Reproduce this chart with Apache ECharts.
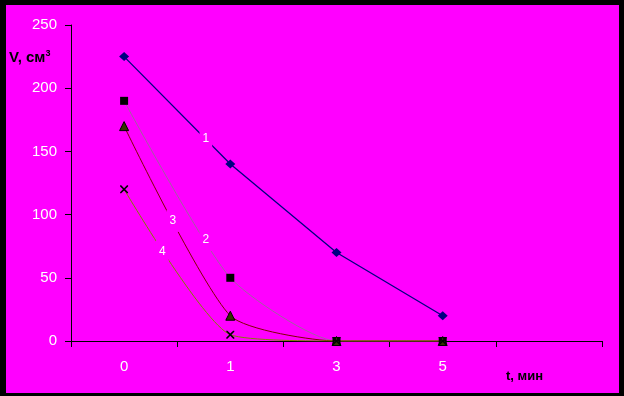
<!DOCTYPE html>
<html><head><meta charset="utf-8">
<script src="https://cdn.jsdelivr.net/npm/echarts@6/dist/echarts.min.js"></script>
<style>html,body{margin:0;padding:0;background:#000;}#c{width:624px;height:396px;}</style>
</head><body><div id="c"></div>
<script>
const categories = ['0', '1', '3', '5', ''];
const series1 = [225, 140, 70, 20];
const series2 = [190, 50, 0, 0];
const series3 = [170, 20, 0, 0];
const series4 = [120, 5, 0, 0];
const yTicks = {min: 0, max: 250, interval: 50};
// curve labels in data space: [category index (fractional), value, text]
const curveLabels = [[0.77, 160, '1'], [0.77, 80, '2'], [0.46, 95, '3'], [0.36, 71, '4']];

const MAG = '#ff00ff';
const xPath = 'path://M0,0L1.4,0L5,3.6L8.6,0L10,0L10,1.4L6.4,5L10,8.6L10,10L8.6,10L5,6.4L1.4,10L0,10L0,8.6L3.6,5L0,1.4Z';
const chart = echarts.init(document.getElementById('c'));
const tickLabel = {color: '#fff', fontFamily: 'Liberation Sans', fontSize: 15,
  textShadowColor: '#000', textShadowOffsetX: 1, textShadowOffsetY: 1, textShadowBlur: 0};
const SM = 0.2;
const option = {
  backgroundColor: '#000',
  animation: false,
  grid: {left: 71, right: 22, top: 25, bottom: 55},
  xAxis: {type: 'category', data: categories, boundaryGap: true,
    axisLine: {lineStyle: {color: '#000', width: 1}},
    axisTick: {show: true, length: 6, lineStyle: {color: '#000'}, alignWithLabel: false},
    axisLabel: Object.assign({margin: 18}, tickLabel),
    splitLine: {show: false}},
  yAxis: {type: 'value', min: yTicks.min, max: yTicks.max, interval: yTicks.interval,
    axisLine: {show: true, lineStyle: {color: '#000', width: 1}},
    axisTick: {show: true, length: 6, lineStyle: {color: '#000'}},
    axisLabel: Object.assign({margin: 14}, tickLabel),
    splitLine: {show: false}},
  series: [
    {type: 'line', data: series2, smooth: SM, symbol: 'rect', symbolSize: 8,
      itemStyle: {color: '#000'}, lineStyle: {color: '#a060a0', width: 1}},
    {type: 'line', data: series3, smooth: SM, symbol: 'triangle', symbolSize: 9,
      itemStyle: {color: '#333300', borderColor: '#000', borderWidth: 1}, lineStyle: {color: '#800000', width: 1}},
    {type: 'line', data: series4, smooth: SM, symbol: xPath, symbolSize: 8,
      itemStyle: {color: '#000'}, lineStyle: {color: '#808000', width: 1}},
    {type: 'line', data: series1, smooth: false, symbol: 'diamond', symbolSize: [10, 9],
      itemStyle: {color: '#000080'}, lineStyle: {color: '#000080', width: 1.3}}
  ]
};
chart.setOption(option);

function toPx(idx, val) {
  const i0 = Math.floor(idx), f = idx - i0;
  const p0 = chart.convertToPixel({gridIndex: 0}, [i0, val]);
  const p1 = chart.convertToPixel({gridIndex: 0}, [i0 + 1, val]);
  return [p0[0] + (p1[0] - p0[0]) * f, p0[1]];
}
const graphics = [
  {type: 'rect', z: -100, silent: true, shape: {x: 6, y: 5, width: 613, height: 388}, style: {fill: MAG}},
  {type: 'text', z: 100, left: 9, top: 49, style: {
    text: '{a|V, см}{s|3}', rich: {
      a: {fontFamily: 'Liberation Sans', fontWeight: 'bold', fontSize: 15, fill: '#000',
        textShadowColor: '#fff', textShadowOffsetX: -1, textShadowOffsetY: -1, textShadowBlur: 0},
      s: {fontFamily: 'Liberation Sans', fontWeight: 'bold', fontSize: 9, fill: '#000', verticalAlign: 'top',
        padding: [0, 0, 8, 0], textShadowColor: '#fff', textShadowOffsetX: -1, textShadowOffsetY: -1, textShadowBlur: 0}
    }}},
  {type: 'text', z: 100, left: 506, top: 370, style: {
    text: 't, мин', fontFamily: 'Liberation Sans', fontWeight: 'bold', fontSize: 13, fill: '#000'}}
];
curveLabels.forEach(function (l) {
  const p = toPx(l[0], l[1]);
  graphics.push({type: 'text', z: 100, x: p[0], y: p[1], style: {
    text: l[2], fontFamily: 'Liberation Sans', fontSize: 12, fill: '#fff',
    textShadowColor: '#000', textShadowOffsetX: 1, textShadowOffsetY: 1, textShadowBlur: 0,
    align: 'center', verticalAlign: 'middle', backgroundColor: MAG, padding: [5, 3]}});
});
chart.setOption({graphic: graphics});
</script></body></html>
